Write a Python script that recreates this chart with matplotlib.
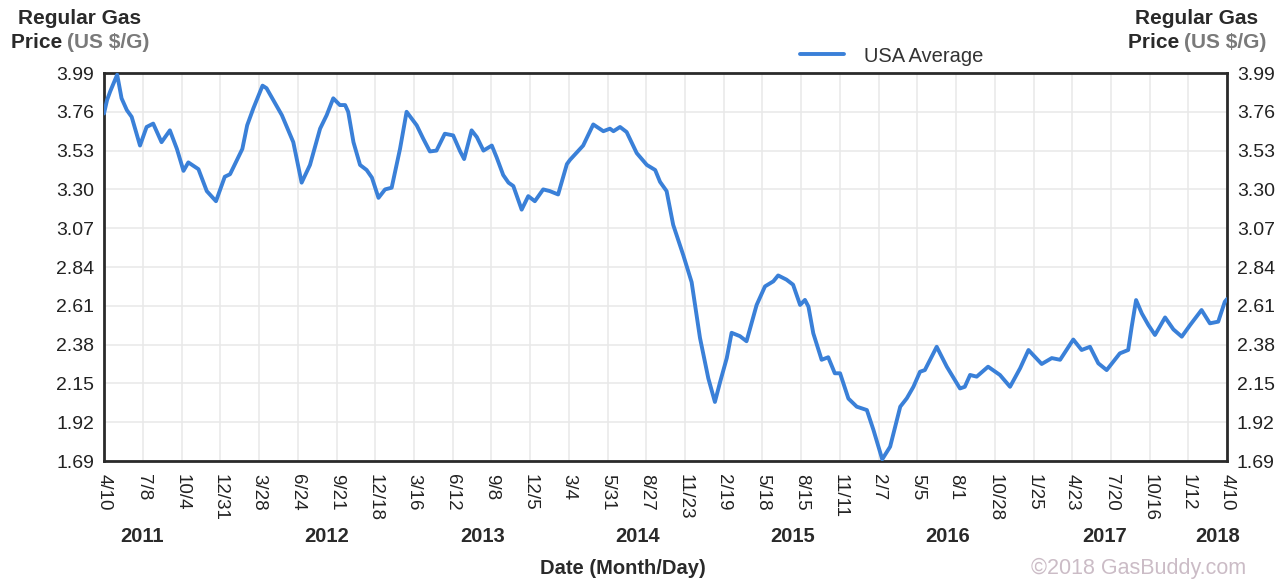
import pandas as pd
import matplotlib.pyplot as plt
import matplotlib.transforms as mtrans

plt.rcParams['font.family'] = ['Liberation Sans', 'DejaVu Sans']

#%% data
dates = ['2011-04-10', '2011-04-17', '2011-04-24', '2011-05-10', '2011-05-20', '2011-06-01',
         '2011-06-12', '2011-07-01', '2011-07-16', '2011-07-31', '2011-08-19', '2011-09-07',
         '2011-09-23', '2011-10-08', '2011-10-19', '2011-11-11', '2011-11-30', '2011-12-21',
         '2012-01-10', '2012-01-22', '2012-02-19', '2012-03-01', '2012-03-15', '2012-04-05',
         '2012-04-14', '2012-05-19', '2012-06-14', '2012-07-03', '2012-07-22', '2012-08-14',
         '2012-08-29', '2012-09-13', '2012-09-28', '2012-10-10', '2012-10-17', '2012-10-29',
         '2012-11-13', '2012-11-28', '2012-12-10', '2012-12-25', '2013-01-09', '2013-01-24',
         '2013-02-12', '2013-02-27', '2013-03-22', '2013-04-06', '2013-04-21', '2013-05-06',
         '2013-05-25', '2013-06-13', '2013-06-29', '2013-07-08', '2013-07-25', '2013-08-06',
         '2013-08-21', '2013-09-09', '2013-09-20', '2013-10-05', '2013-10-17', '2013-10-28',
         '2013-11-16', '2013-12-01', '2013-12-16', '2014-01-04', '2014-01-19', '2014-02-07',
         '2014-02-27', '2014-03-06', '2014-04-05', '2014-04-28', '2014-05-21', '2014-06-05',
         '2014-06-13', '2014-06-28', '2014-07-13', '2014-08-05', '2014-08-28', '2014-09-16',
         '2014-09-27', '2014-10-12', '2014-10-27', '2014-11-19', '2014-12-08', '2014-12-27',
         '2015-01-15', '2015-01-30', '2015-02-11', '2015-02-26', '2015-03-09', '2015-03-28',
         '2015-04-12', '2015-05-05', '2015-05-24', '2015-06-12', '2015-06-23', '2015-07-12',
         '2015-07-27', '2015-08-12', '2015-08-23', '2015-08-31', '2015-09-11', '2015-09-30',
         '2015-10-15', '2015-10-30', '2015-11-11', '2015-11-30', '2015-12-19', '2016-01-11',
         '2016-01-26', '2016-02-15', '2016-03-04', '2016-03-27', '2016-04-11', '2016-04-26',
         '2016-05-11', '2016-05-22', '2016-06-18', '2016-07-11', '2016-08-10', '2016-08-21',
         '2016-09-02', '2016-09-17', '2016-10-13', '2016-11-09', '2016-12-02', '2016-12-25',
         '2017-01-13', '2017-02-12', '2017-03-07', '2017-03-26', '2017-04-25', '2017-05-14',
         '2017-06-02', '2017-06-21', '2017-07-10', '2017-08-09', '2017-08-28', '2017-09-05',
         '2017-09-15', '2017-09-28', '2017-10-13', '2017-10-28', '2017-11-20', '2017-12-09',
         '2017-12-28', '2018-01-16', '2018-02-11', '2018-03-02', '2018-03-21', '2018-04-05',
         '2018-04-10']
prices = [3.75, 3.83, 3.88, 3.98, 3.84, 3.77,
          3.73, 3.56, 3.67, 3.69, 3.58, 3.65,
          3.54, 3.41, 3.46, 3.42, 3.29, 3.23,
          3.375, 3.39, 3.54, 3.68, 3.78, 3.915,
          3.90, 3.74, 3.58, 3.34, 3.445, 3.66,
          3.74, 3.84, 3.80, 3.80, 3.76, 3.58,
          3.445, 3.415, 3.37, 3.25, 3.30, 3.31,
          3.54, 3.76, 3.68, 3.60, 3.525, 3.53,
          3.63, 3.62, 3.525, 3.48, 3.65, 3.61,
          3.53, 3.56, 3.49, 3.385, 3.34, 3.32,
          3.18, 3.26, 3.23, 3.30, 3.29, 3.27,
          3.45, 3.475, 3.56, 3.685, 3.645, 3.66,
          3.645, 3.67, 3.64, 3.515, 3.445, 3.415,
          3.345, 3.29, 3.09, 2.91, 2.75, 2.42,
          2.18, 2.04, 2.16, 2.30, 2.45, 2.43,
          2.40, 2.615, 2.725, 2.755, 2.79, 2.765,
          2.735, 2.615, 2.645, 2.605, 2.447, 2.29,
          2.305, 2.21, 2.21, 2.06, 2.012, 1.992,
          1.874, 1.70, 1.775, 2.012, 2.062, 2.13,
          2.219, 2.229, 2.367, 2.249, 2.12, 2.13,
          2.20, 2.19, 2.249, 2.20, 2.13, 2.24,
          2.348, 2.265, 2.30, 2.29, 2.41, 2.348,
          2.367, 2.269, 2.229, 2.328, 2.348, 2.486,
          2.644, 2.565, 2.496, 2.437, 2.541, 2.47,
          2.427, 2.496, 2.585, 2.506, 2.516, 2.634,
          2.65]

tick_dates = ['2011-04-10', '2011-07-08', '2011-10-04', '2011-12-31', '2012-03-28', '2012-06-24',
              '2012-09-21', '2012-12-18', '2013-03-16', '2013-06-12', '2013-09-08', '2013-12-05',
              '2014-03-04', '2014-05-31', '2014-08-27', '2014-11-23', '2015-02-19', '2015-05-18',
              '2015-08-15', '2015-11-11', '2016-02-07', '2016-05-05', '2016-08-01', '2016-10-28',
              '2017-01-25', '2017-04-23', '2017-07-20', '2017-10-16', '2018-01-12', '2018-04-10']
tick_labels = ['4/10', '7/8', '10/4', '12/31', '3/28', '6/24', '9/21', '12/18', '3/16', '6/12',
               '9/8', '12/5', '3/4', '5/31', '8/27', '11/23', '2/19', '5/18', '8/15', '11/11',
               '2/7', '5/5', '8/1', '10/28', '1/25', '4/23', '7/20', '10/16', '1/12', '4/10']
years = ['2011', '2012', '2013', '2014', '2015', '2016', '2017', '2018']
year_label_dates = ['2011-07-05', '2012-08-30', '2013-08-18', '2014-08-06',
                    '2015-07-25', '2016-07-14', '2017-07-06', '2018-03-20']
y_ticks = [1.69, 1.92, 2.15, 2.38, 2.61, 2.84, 3.07, 3.30, 3.53, 3.76, 3.99]

#%% plot
fig = plt.figure(figsize=(12.85, 5.80), dpi=100)
ax = fig.add_axes([104/1285, 1-461/580, 1123/1285, 388/580])

ax.plot(pd.to_datetime(dates), prices, color='#3a80d8', lw=2.8, label='USA Average',
        solid_joinstyle='round', solid_capstyle='round', zorder=3)
ax.set_xlim(pd.Timestamp('2011-04-10'), pd.Timestamp('2018-04-10'))
ax.set_ylim(1.69, 3.99)

ax.set_yticks(y_ticks)
ax.set_yticklabels(['%.2f' % v for v in y_ticks])
ax.tick_params(axis='y', left=True, right=True, labelleft=True, labelright=True,
               length=0, pad=7, labelsize=14, labelcolor='#222222')
ax.set_xticks(pd.to_datetime(tick_dates))
ax.set_xticklabels(tick_labels, rotation=270, fontsize=13.5, color='#222222')
ax.tick_params(axis='x', length=0, pad=9)

ax.grid(True, color='#e8e8e8', lw=1.1, zorder=0)
for s in ax.spines.values():
    s.set_color('#2a2a2a')
    s.set_linewidth(2)

# year labels under the month/day ticks
trans = mtrans.blended_transform_factory(ax.transData, fig.transFigure)
for yr, d in zip(years, year_label_dates):
    ax.text(pd.Timestamp(d), 1-537/580, yr, transform=trans, ha='center', va='center',
            fontsize=14.5, fontweight='bold', color='#2a2a2a')

fig.text(623/1285, 1-568/580, 'Date (Month/Day)', ha='center', va='center',
         fontsize=14.5, fontweight='bold', color='#2a2a2a')
fig.text(1246/1285, 1-568/580, '\u00a92018 GasBuddy.com', ha='right', va='center',
         fontsize=15.5, color='#cbbcc6')

# axis titles, both sides
for xc in (80, 1197):
    fig.text(xc/1285, 1-18/580, 'Regular Gas', ha='center', va='center',
             fontsize=15, fontweight='bold', color='#2a2a2a')
    fig.text((xc-69)/1285, 1-42/580, 'Price ', ha='left', va='center',
             fontsize=15, fontweight='bold', color='#2a2a2a')
    fig.text((xc-13)/1285, 1-42/580, '(US $/G)', ha='left', va='center',
             fontsize=15, fontweight='bold', color='#7a7a7a')

leg = ax.legend(loc='center left', bbox_to_anchor=(800/1285, 1-56/580),
                bbox_transform=fig.transFigure, frameon=False, borderpad=0,
                borderaxespad=0, handlelength=2.2, handletextpad=1.0, fontsize=14.5)
for t in leg.get_texts():
    t.set_color('#333333')

plt.savefig('out.png', dpi=100)
